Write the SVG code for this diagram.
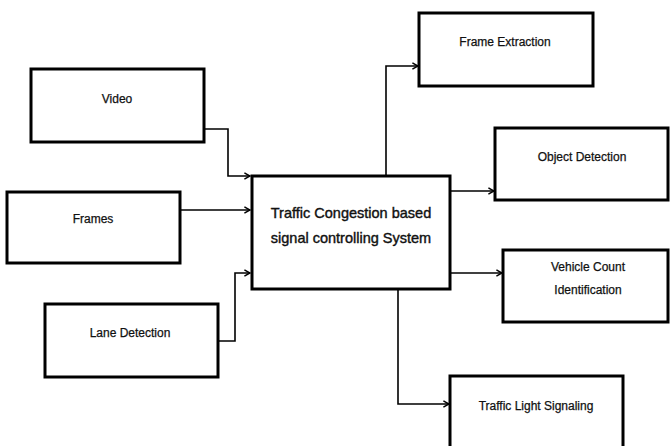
<svg xmlns="http://www.w3.org/2000/svg" width="670" height="446" viewBox="0 0 670 446">
<defs>
<style>
.box{fill:#fff;stroke:#000;stroke-width:3}
.lbl{font-family:"Liberation Sans",Arial,sans-serif;font-size:12px;fill:#111;stroke:#111;stroke-width:0.25;text-anchor:middle}
.big{font-family:"Liberation Sans",Arial,sans-serif;font-size:14.5px;fill:#111;stroke:#111;stroke-width:0.4;text-anchor:middle}
.con{fill:none;stroke:#000;stroke-width:1.6}
</style>
<marker id="arr" viewBox="0 0 10 10" refX="9" refY="5" markerWidth="8" markerHeight="8" markerUnits="userSpaceOnUse" orient="auto">
<path d="M2,1 L9,5 L2,9" fill="none" stroke="#000" stroke-width="1.8"/>
</marker>
</defs>
<rect width="670" height="446" fill="#fff"/>
<g id="connectors">
<polyline class="con" points="204,129 228,129 228,176 250,176" marker-end="url(#arr)"/>
<polyline class="con" points="180,210 250,210" marker-end="url(#arr)"/>
<polyline class="con" points="218,341 235,341 235,273 250,273" marker-end="url(#arr)"/>
<polyline class="con" points="386,176 386,66 418,66" marker-end="url(#arr)"/>
<polyline class="con" points="450,191 494,191" marker-end="url(#arr)"/>
<polyline class="con" points="450,273 502,273" marker-end="url(#arr)"/>
<polyline class="con" points="398,289 398,404 449,404" marker-end="url(#arr)"/>
</g>
<g id="video"><rect class="box" x="31" y="69" width="173" height="73"/><text class="lbl" x="117" y="103">Video</text></g>
<g id="frames"><rect class="box" x="7" y="192" width="173" height="71"/><text class="lbl" x="93" y="223">Frames</text></g>
<g id="lane"><rect class="box" x="45" y="304" width="173" height="73"/><text class="lbl" x="130" y="337">Lane Detection</text></g>
<g id="system"><rect class="box" x="252" y="176" width="198" height="113"/><text class="big" x="351" y="218">Traffic Congestion based</text><text class="big" x="351" y="243">signal controlling System</text></g>
<g id="frameext"><rect class="box" x="419" y="13" width="174" height="73"/><text class="lbl" x="505" y="46">Frame Extraction</text></g>
<g id="objdet"><rect class="box" x="495" y="128" width="173" height="72"/><text class="lbl" x="582" y="161">Object Detection</text></g>
<g id="vehicle"><rect class="box" x="503" y="250" width="165" height="72"/><text class="lbl" x="588" y="271">Vehicle Count</text><text class="lbl" x="588" y="294">Identification</text></g>
<g id="light"><rect class="box" x="450" y="376" width="173" height="80"/><text class="lbl" x="536" y="410">Traffic Light Signaling</text></g>
</svg>
